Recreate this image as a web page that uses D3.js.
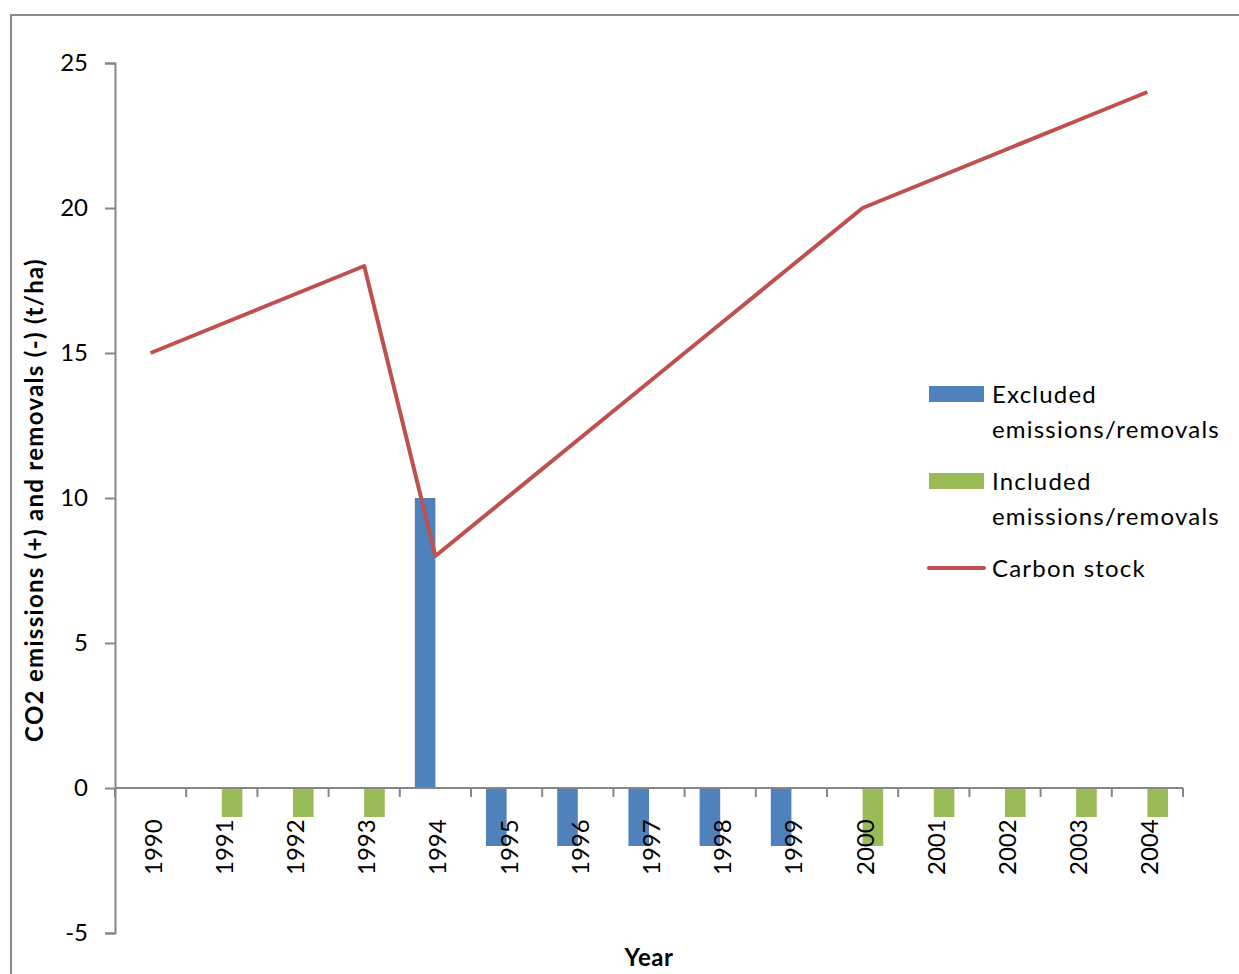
<!DOCTYPE html>
<html>
<head>
<meta charset="utf-8">
<script src="https://cdn.jsdelivr.net/npm/d3@7"></script>
<style>
  html, body { margin: 0; padding: 0; background: #fff; }
  svg { display: block; font-family: Lato, "Open Sans", sans-serif; }
</style>
</head>
<body>
<svg id="chart" width="1239" height="974"></svg>
<script>
// Years on the category axis
const years = ["1990","1991","1992","1993","1994","1995","1996","1997","1998","1999","2000","2001","2002","2003","2004"];
// Bar series (t/ha)
const excluded = [0, 0, 0, 0, 10, -2, -2, -2, -2, -2, 0, 0, 0, 0, 0];
const included = [0, -1, -1, -1, 0, 0, 0, 0, 0, 0, -2, -1, -1, -1, -1];
// Line series (t/ha)
const carbonStock = [15, 16, 17, 18, 8, 10, 12, 14, 16, 18, 20, 21, 22, 23, 24];
// Value axis ticks
const yTicks = [-5, 0, 5, 10, 15, 20, 25];

const colors = { excluded: "#4F81BD", included: "#9BBB59", stock: "#C0504D" };
const axisColor = "#868686";

const svg = d3.select("#chart");
const margin = { left: 115, top: 63, right: 56, bottom: 41 };
const W = 1239, H = 974;
const plotW = W - margin.left - margin.right;
const plotH = H - margin.top - margin.bottom;

// Outer chart border
svg.append("rect")
  .attr("x", 11).attr("y", 15)
  .attr("width", 1240).attr("height", 980)
  .attr("fill", "none").attr("stroke", "#8c8c8c").attr("stroke-width", 2);

const g = svg.append("g").attr("transform", `translate(${margin.left},${margin.top})`);

const x0 = d3.scaleBand().domain(years).range([0, plotW]).paddingInner(0).paddingOuter(0);
const x1 = d3.scaleBand().domain(["excluded", "included"]).range([0, x0.bandwidth()]).paddingInner(0).paddingOuter(0.73);
const y = d3.scaleLinear().domain([-5, 25]).range([plotH, 0]);

// Bars
const rows = years.map((yr, i) => ({ year: yr, excluded: excluded[i], included: included[i] }));
const groups = g.selectAll("g.grp").data(rows).join("g")
  .attr("class", "grp")
  .attr("transform", d => `translate(${x0(d.year)},0)`);
groups.selectAll("rect")
  .data(d => ["excluded", "included"].map(k => ({ key: k, value: d[k] })))
  .join("rect")
  .attr("x", d => x1(d.key))
  .attr("width", x1.bandwidth())
  .attr("y", d => y(Math.max(0, d.value)))
  .attr("height", d => Math.abs(y(d.value) - y(0)))
  .attr("fill", d => colors[d.key]);

// Value axis
const yAxis = g.append("g")
  .call(d3.axisLeft(y).tickValues(yTicks).tickSize(10).tickPadding(17).tickFormat(d => String(d)));
yAxis.select(".domain").attr("stroke", axisColor).attr("stroke-width", 2);
yAxis.selectAll(".tick line").attr("stroke", axisColor).attr("stroke-width", 2);
yAxis.selectAll(".tick text").attr("font-size", 24).attr("fill", "#000")
  .attr("font-family", "Lato, sans-serif");

// Category axis at zero, ticks on category boundaries
const xAxisG = g.append("g").attr("transform", `translate(0,${y(0)})`);
xAxisG.append("line")
  .attr("x1", 0).attr("x2", plotW).attr("y1", 0).attr("y2", 0)
  .attr("stroke", axisColor).attr("stroke-width", 2);
const boundaries = d3.range(years.length + 1).map(i => i * x0.step());
xAxisG.selectAll("line.tk").data(boundaries).join("line")
  .attr("class", "tk")
  .attr("x1", d => d).attr("x2", d => d)
  .attr("y1", 0).attr("y2", 9)
  .attr("stroke", axisColor).attr("stroke-width", 2);
xAxisG.selectAll("text.cat").data(years).join("text")
  .attr("class", "cat")
  .attr("transform", d => `translate(${x0(d) + x0.bandwidth() / 2 + 11},87) rotate(-90)`)
  .attr("text-anchor", "start")
  .attr("font-size", 24)
  .attr("fill", "#000")
  .text(d => d);

// Carbon stock line
const line = d3.line()
  .x((d, i) => x0(years[i]) + x0.bandwidth() / 2)
  .y(d => y(d));
g.append("path")
  .datum(carbonStock)
  .attr("d", line)
  .attr("fill", "none")
  .attr("stroke", colors.stock)
  .attr("stroke-width", 4)
  .attr("stroke-linejoin", "round");

// Axis titles
svg.append("text")
  .attr("transform", `translate(43,500) rotate(-90)`)
  .attr("text-anchor", "middle")
  .attr("font-size", 24)
  .attr("letter-spacing", 1.3)
  .attr("font-weight", "bold")
  .attr("fill", "#000")
  .text("CO2 emissions (+) and removals (-) (t/ha)");
svg.append("text")
  .attr("x", margin.left + plotW / 2)
  .attr("y", 966)
  .attr("text-anchor", "middle")
  .attr("font-size", 24)
  .attr("letter-spacing", 0.5)
  .attr("font-weight", "bold")
  .attr("fill", "#000")
  .text("Year");

// Legend
const legend = svg.append("g").attr("transform", "translate(929,0)");
const legendItems = [
  { type: "rect", color: colors.excluded, lines: ["Excluded", "emissions/removals"], y: 386 },
  { type: "rect", color: colors.included, lines: ["Included", "emissions/removals"], y: 473 },
  { type: "line", color: colors.stock, lines: ["Carbon stock"], y: 560 }
];
legendItems.forEach(it => {
  if (it.type === "rect") {
    legend.append("rect").attr("x", 0).attr("y", it.y).attr("width", 55).attr("height", 16).attr("fill", it.color);
  } else {
    legend.append("line").attr("x1", 0).attr("x2", 55).attr("y1", it.y + 8).attr("y2", it.y + 8)
      .attr("stroke", it.color).attr("stroke-width", 4).attr("stroke-linecap", "round");
  }
  const t = legend.append("text").attr("x", 63).attr("y", it.y + 17)
    .attr("font-size", 24).attr("letter-spacing", 1.2).attr("fill", "#000");
  it.lines.forEach((ln, j) => {
    t.append("tspan").attr("x", 63).attr("dy", j === 0 ? 0 : 35).text(ln);
  });
});
</script>
</body>
</html>
